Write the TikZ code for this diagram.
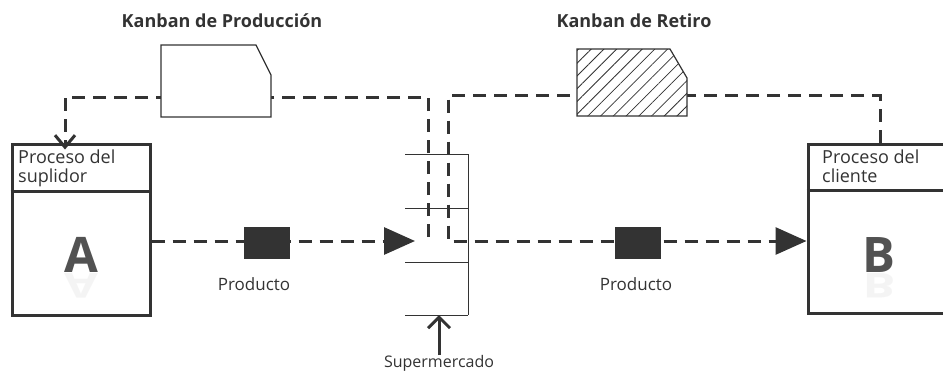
\documentclass[tikz,border=0pt]{standalone}
\usepackage{fontspec}
\setmainfont{Open Sans}
\usetikzlibrary{arrows.meta, patterns.meta, positioning}
\definecolor{ink}{HTML}{333333}

\tikzset{
    procbox/.style={draw=ink, line width=3pt, fill=white, minimum width=138pt, minimum height=171pt, inner sep=0pt},
    headtext/.style={anchor=north west, align=left, inner sep=0pt, text=ink, font=\fontsize{18}{19}\selectfont},
    bigletter/.style={text=ink!85, inner sep=0pt, font=\fontsize{49}{49}\selectfont\bfseries},
    flow/.style={draw=ink, line width=3pt, dash pattern=on 13pt off 8pt},
    product/.style={fill=ink, minimum width=46pt, minimum height=32pt, inner sep=0pt},
    plain text/.style={text=ink, inner sep=0pt, font=\fontsize{16}{19}\selectfont},
    title text/.style={text=ink, inner sep=0pt, font=\fontsize{18}{21}\selectfont\bfseries},
    card/.style={draw=ink, line width=1.2pt, fill=white},
    shelf/.style={draw=ink, line width=0.9pt},
}

\begin{document}
\begin{tikzpicture}[x=1pt, y=-1pt]
    \useasboundingbox (0,0) rectangle (943,373);

    % Draw the two process boxes
    \node[procbox] (ProcA) at (81,229.5) {};
    \node[procbox, minimum width=150pt, minimum height=169pt] (ProcB) at (883,228.5) {};
    \draw[draw=ink, line width=3pt] ([yshift=-49pt]ProcA.north west) -- ([yshift=-49pt]ProcA.north east);
    \draw[draw=ink, line width=3pt] ([yshift=-48pt]ProcB.north west) -- ([yshift=-48pt]ProcB.north east);
    \node[headtext] (HeadA) at (18,150) {Proceso del\\suplidor};
    \node[headtext] (HeadB) at (822,150) {Proceso del\\cliente};

    % Big letters with a faint reflection
    \node[bigletter] (LetA) at (81,255) {A};
    \node[bigletter, opacity=0.06, yscale=-0.7] (RefA) at (81,286) {A};
    \node[bigletter] (LetB) at (879,255) {B};
    \node[bigletter, opacity=0.06, yscale=-0.7] (RefB) at (879,286) {B};

    % Supermarket shelves
    \foreach \y in {154, 208, 262, 315}
        \draw[shelf] (405,\y) -- (468,\y);
    \draw[shelf] (468,154) -- (468,315);

    % Define coordinates for the kanban posts
    \coordinate (SupIn) at (415,241);
    \coordinate (PostL) at (428,237);
    \coordinate (PostR) at (448,241);
    \coordinate (SupBase) at (439,315);

    % Kanban loops
    \draw[flow, -{Straight Barb[length=12pt, width=20pt, line width=3pt]}]
        (PostL) |- (65,97) -- ([xshift=-16pt, yshift=-7pt]ProcA.north);
    \draw[flow, -{Triangle[length=31pt, width=27pt]}]
        (ProcB.north -| 880,0) -- ++(0,-47) -| (PostR) -- (ProcB.west |- PostR);

    % Product flow from A to the supermarket
    \draw[flow, -{Triangle[length=31pt, width=27pt]}] (ProcA.east |- SupIn) -- (SupIn);

    % Product boxes
    \node[product] (ProdA) at (267,243) {};
    \node[product] (ProdB) at (638,243) {};
    \node[plain text, font=\fontsize{17}{19}\selectfont] (LabA) at (254,284) {Producto};
    \node[plain text, font=\fontsize{17}{19}\selectfont] (LabB) at (636,284) {Producto};

    % Supermarket label and pointer
    \node[plain text, anchor=north] (SupLabel) at (439,355) {Supermercado};
    \draw[draw=ink, line width=3pt, -{Straight Barb[length=11pt, width=22pt, line width=3pt]}]
        (SupLabel.north) -- (SupBase);

    % Kanban cards
    \filldraw[card] (161,45) -- (256,45) -- (271,75) -- (271,117) -- (161,117) -- cycle;
    \filldraw[card] (577,49) -- (670,49) -- (687,78) -- (687,116) -- (577,116) -- cycle;
    \fill[pattern={Lines[angle=45, distance=9pt, line width=0.8pt]}, pattern color=ink]
        (577,49) -- (670,49) -- (687,78) -- (687,116) -- (577,116) -- cycle;
    \node[title text] (TitleProd) at (222,21) {Kanban de Producción};
    \node[title text] (TitleRet) at (634,21) {Kanban de Retiro};

\end{tikzpicture}
\end{document}
